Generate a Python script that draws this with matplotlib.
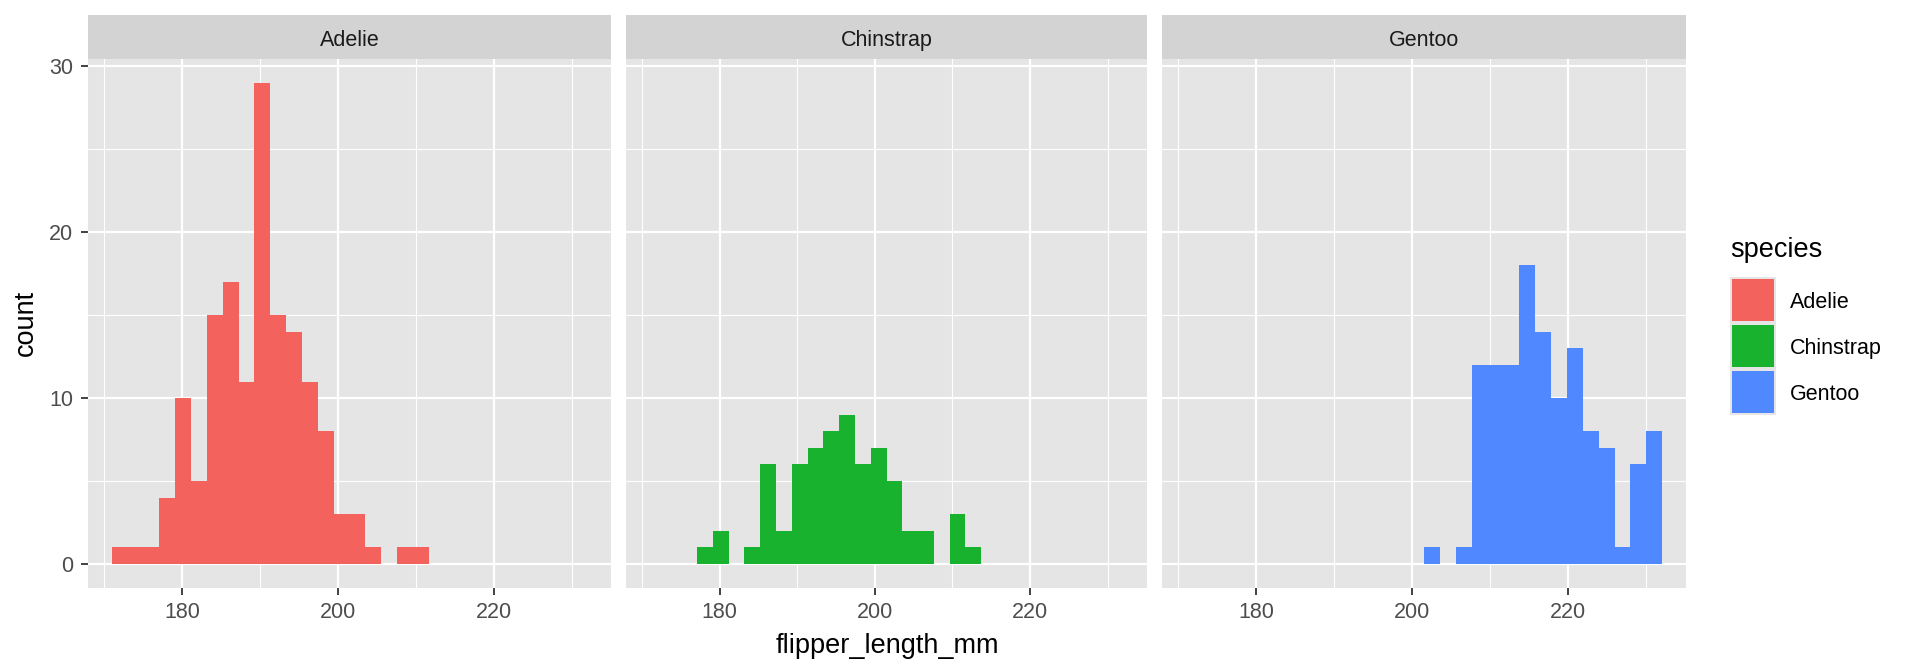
import matplotlib
matplotlib.use("Agg")
import matplotlib.pyplot as plt
import matplotlib.patches as patches
import numpy as np

plt.rcParams['font.family'] = ['Liberation Sans', 'DejaVu Sans']

# histogram of flipper_length_mm, 30 bins (ggplot default)
bin_start = 170.983
bin_width = 2.0345
species = ['Adelie', 'Chinstrap', 'Gentoo']
colors = ['#F4625D', '#19B22E', '#5088FF']

adelie = [1, 1, 1, 4, 10, 5, 15, 17, 11, 29, 15, 14, 11, 8, 3, 3, 1, 0, 1, 1,
          0, 0, 0, 0, 0, 0, 0, 0, 0, 0]
chinstrap = [0, 0, 0, 1, 2, 0, 1, 6, 2, 6, 7, 8, 9, 6, 7, 5, 2, 2, 0, 3,
             1, 0, 0, 0, 0, 0, 0, 0, 0, 0]
gentoo = [0, 0, 0, 0, 0, 0, 0, 0, 0, 0, 0, 0, 0, 0, 0, 1, 0, 1, 12, 12,
          12, 18, 14, 10, 13, 8, 7, 1, 6, 8]
counts = [adelie, chinstrap, gentoo]

x_ticks = [180, 200, 220]
x_minor = [170, 190, 210, 230]
y_ticks = [0, 10, 20, 30]
y_minor = [5, 15, 25]

W, H = 1920, 672
fig = plt.figure(figsize=(W / 100, H / 100), dpi=100)

# panel geometry in pixels
panel_x = [(88, 611), (626, 1147), (1162, 1686)]
strip_top, strip_bot, panel_bot = 15, 59, 588

centers = bin_start + bin_width * (np.arange(30) + 0.5)
xmax = bin_start + 30 * bin_width
xpad = (xmax - bin_start) * 0.05
xlim = (bin_start - xpad, xmax + xpad)
ylim = (-29 * 0.05, 29 * 1.05)

for i, (x0, x1) in enumerate(panel_x):
    ax = fig.add_axes([x0 / W, 1 - panel_bot / H, (x1 - x0) / W, (panel_bot - strip_bot) / H])
    ax.set_facecolor('#E5E5E5')
    for s in ax.spines.values():
        s.set_visible(False)
    for v in x_minor:
        ax.axvline(v, color='white', lw=0.8, zorder=0)
    for v in y_minor:
        ax.axhline(v, color='white', lw=0.8, zorder=0)
    for v in x_ticks:
        ax.axvline(v, color='white', lw=1.6, zorder=0)
    for v in y_ticks:
        ax.axhline(v, color='white', lw=1.6, zorder=0)
    ax.bar(centers, counts[i], width=bin_width, color=colors[i], linewidth=0, zorder=2)
    ax.set_xlim(xlim)
    ax.set_ylim(ylim)
    ax.set_xticks(x_ticks)
    ax.set_yticks(y_ticks)
    ax.tick_params(colors='#333333', labelcolor='#4D4D4D', labelsize=15.5,
                   length=5, width=1.3)
    ax.tick_params(axis='x', pad=5)
    ax.tick_params(axis='y', pad=5.5)
    if i > 0:
        ax.tick_params(axis='y', left=False, labelleft=False)

    sax = fig.add_axes([x0 / W, 1 - strip_bot / H, (x1 - x0) / W, (strip_bot - strip_top) / H])
    sax.set_facecolor('#D3D3D3')
    sax.set_xticks([])
    sax.set_yticks([])
    for s in sax.spines.values():
        s.set_visible(False)
    sax.text(0.5, (strip_bot - 46) / (strip_bot - strip_top), species[i],
             ha='center', va='baseline', fontsize=15.5,
             color='#1A1A1A', transform=sax.transAxes)

fig.text(887 / W, 1 - 653 / H, 'flipper_length_mm', ha='center', va='baseline',
         fontsize=19.5, color='black')
fig.text(33 / W, 1 - 323 / H, 'count', ha='center', va='baseline',
         rotation=90, rotation_mode='anchor', fontsize=19.5, color='black')

# legend
fig.text(1730 / W, 1 - 257 / H, 'species', ha='left', va='baseline',
         fontsize=19.5, color='black')
key_y = [277, 323, 369]
for i, name in enumerate(species):
    y = key_y[i]
    fig.add_artist(patches.Rectangle((1730 / W, 1 - (y + 46) / H), 46 / W, 46 / H,
                                     transform=fig.transFigure, facecolor='#E5E5E5',
                                     edgecolor='none'))
    fig.add_artist(patches.Rectangle((1732 / W, 1 - (y + 44) / H), 42 / W, 42 / H,
                                     transform=fig.transFigure, facecolor=colors[i],
                                     edgecolor='none'))
    fig.text(1790 / W, 1 - (y + 23) / H, name, ha='left', va='center_baseline',
             fontsize=15.5, color='black')

fig.savefig('out.png', dpi=100, facecolor='white')
